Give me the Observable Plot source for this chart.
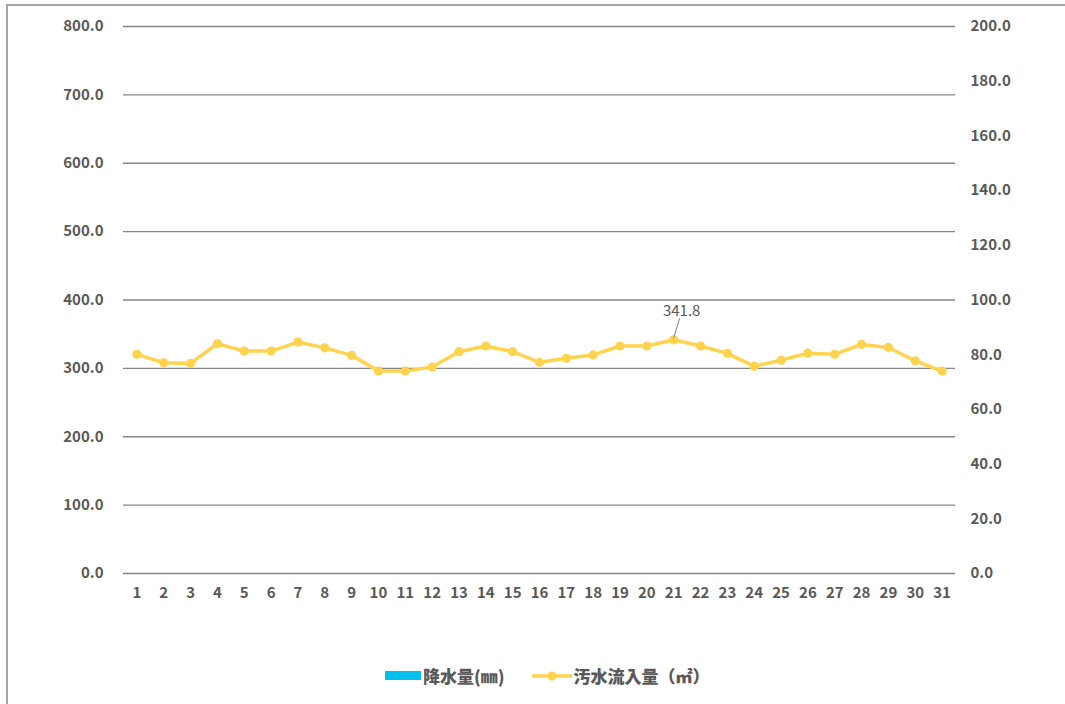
<!DOCTYPE html>
<html><head><meta charset="utf-8">
<script src="https://cdn.jsdelivr.net/npm/d3@7"></script>
<script src="https://cdn.jsdelivr.net/npm/@observablehq/plot@0.6"></script>
<style>
body{margin:0;background:#fff;}
#wrap{position:relative;width:1065px;height:704px;overflow:hidden;font-family:"Noto Sans CJK JP","Noto Sans",sans-serif;background:#fff;}
#frame{position:absolute;left:6px;top:4px;width:1200px;height:900px;border-top:2px solid #a6a6a6;border-left:2px solid #a6a6a6;}
#chart{position:absolute;left:0;top:0;}
#legend{position:absolute;top:663px;left:385px;display:flex;align-items:center;font-weight:900;font-size:17px;color:#595959;white-space:nowrap;}
#legend .sw{display:inline-block;width:36px;height:9px;background:#00C0F0;margin-right:2px;}
</style></head>
<body>
<div id="wrap"><div id="frame"></div><div id="chart"></div>
<div id="legend"><span class="sw"></span><span>降水量(㎜)</span>
<svg width="40" height="14" style="margin-left:27px;margin-right:2px"><line x1="0" y1="7" x2="40" y2="7" stroke="#FFD34E" stroke-width="3.5"/><circle cx="20" cy="7" r="4.5" fill="#FFD34E"/></svg>
<span>汚水流入量（㎡）</span></div>
</div>
<script>
const days = [1,2,3,4,5,6,7,8,9,10,11,12,13,14,15,16,17,18,19,20,21,22,23,24,25,26,27,28,29,30,31];
const inflow = [320.5,308.2,307.3,336.0,325.3,325.3,338.5,330.0,319.0,296.0,296.0,302.0,324.4,332.7,324.4,308.9,314.8,319.7,332.7,332.7,341.8,332.7,322.0,303.0,312.0,322.2,320.5,335.0,330.6,311.0,296.0];
const rainfall = [0,0,0,0,0,0,0,0,0,0,0,0,0,0,0,0,0,0,0,0,0,0,0,0,0,0,0,0,0,0,0];
const leftTicks = [0,100,200,300,400,500,600,700,800];
const rightTicks = [0,20,40,60,80,100,120,140,160,180,200];
const labelDay = 21;

const inflowData = days.map((d,i)=>({day:d, v:inflow[i]}));
const rainData = days.map((d,i)=>({day:d, r:rainfall[i]}));
const labelData = inflowData.filter(d=>d.day===labelDay);
const col = "#FFD34E";

const chart = Plot.plot({
  width: 1065, height: 620,
  marginTop: 26, marginBottom: 47, marginLeft: 123, marginRight: 110,
  style: {fontFamily: '"Noto Sans CJK JP","Noto Sans",sans-serif', fontSize: "15px", fontWeight: "bold", color: "#595959", background: "transparent"},
  x: {type: "point", domain: days, padding: 0.5, round: false, label: null},
  y: {domain: [0, 800], label: null},
  marks: [
    Plot.ruleY(leftTicks, {stroke: "#868686", strokeWidth: 1.3}),
    Plot.ruleX(rainData, {x: "day", y1: 0, y2: d => d.r * 4, stroke: "#00C0F0", strokeWidth: 16}),
    Plot.axisY({anchor: "left", ticks: leftTicks, tickFormat: d => d.toFixed(1), tickSize: 0, tickPadding: 20, label: null}),
    Plot.axisY({anchor: "right", ticks: rightTicks.map(t => t * 4), tickFormat: d => (d / 4).toFixed(1), tickSize: 0, tickPadding: 15, label: null}),
    Plot.axisX({tickSize: 0, tickPadding: 14, label: null}),
    Plot.line(inflowData, {x: "day", y: "v", stroke: col, strokeWidth: 3.5}),
    Plot.dot(inflowData, {x: "day", y: "v", r: 4.6, fill: col}),
    Plot.vector(labelData, {x: "day", y: "v", length: 20, rotate: 17, anchor: "start", dy: -2, stroke: "#808080", strokeWidth: 1,
      shape: {draw(context, l) { context.moveTo(0, 0); context.lineTo(0, -l); }}}),
    Plot.text(labelData, {x: "day", y: "v", text: d => d.v.toFixed(1), dx: 8, dy: -29, fontWeight: "normal", fontSize: 15, fill: "#595959"})
  ]
});
document.getElementById("chart").appendChild(chart);
</script>
</body></html>
